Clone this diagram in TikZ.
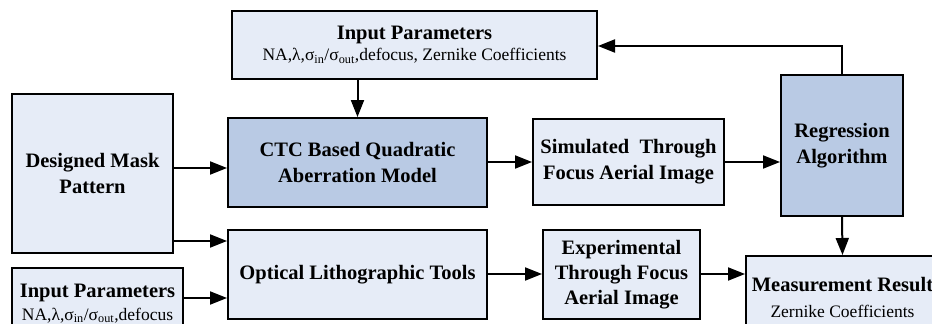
\documentclass[tikz,border=0pt]{standalone}
\usepackage{fontspec}
\setmainfont{Liberation Serif}
\usetikzlibrary{arrows.meta}
\definecolor{lightbox}{RGB}{230,236,247}
\definecolor{darkbox}{RGB}{185,202,228}
\tikzset{
  box/.style={draw=black, line width=2pt, fill=lightbox, align=center, inner sep=0pt,
    font=\fontsize{20.5}{26}\selectfont\bfseries},
  darkfill/.style={fill=darkbox},
  arr/.style={line width=2pt, -{Triangle[length=17pt,width=13pt]}},
}
\newcommand{\subtxt}[1]{{\mdseries\fontsize{17.5}{21}\selectfont #1}}
\newcommand{\sig}{NA,λ,σ\textsubscript{in}/σ\textsubscript{out},defocus}
\begin{document}
\begin{tikzpicture}[x=1pt,y=-1pt]
\useasboundingbox (0,0) rectangle (932,324);
\clip (0,0) rectangle (932,324);
\fill[white] (0,0) rectangle (932,324);
% nodes
\node[box, minimum width=365pt, minimum height=68pt] (top) at (414.5,45)
  {\raisebox{-2pt}{Input Parameters}\\[-3pt]\subtxt{\sig, Zernike Coefficients}};
\node[box, darkfill, minimum width=259pt, minimum height=89pt] (ctc) at (357.5,162.5)
  {CTC Based Quadratic\\Aberration Model};
\node[box, minimum width=161pt, minimum height=159pt] (mask) at (92.5,173.5)
  {Designed Mask\\Pattern};
\node[box, minimum width=259pt, minimum height=89pt] (opt) at (357.5,274.5)
  {Optical Lithographic Tools};
\node[box, minimum width=171pt, minimum height=71pt] (inp) at (97.5,303.5)
  {Input Parameters\\[-3pt]\subtxt{\sig}};
\node[box, minimum width=191pt, minimum height=86pt] (sim) at (628.5,162)
  {Simulated\ \ Through\\Focus Aerial Image};
\node[box, darkfill, minimum width=122pt, minimum height=141pt] (reg) at (842,145.5)
  {Regression\\Algorithm};
\node[box, minimum width=157pt, minimum height=89pt] (exp) at (621.5,274.5)
  {Experimental\\[-1pt]Through Focus\\[-1pt]Aerial Image};
\node[box, minimum width=193pt, minimum height=83pt] (meas) at (842.5,297.5)
  {Measurement Result\\[0pt]\subtxt{Zernike Coefficients}};
% connectors
\draw[arr] (ctc.north |- top.south) -- (ctc.north);
\draw[arr] (mask.east |- 0,168) -- (ctc.west |- 0,168);
\draw[arr] (mask.east |- 0,241) -- (opt.west |- 0,241);
\draw[arr] (inp.east |- 0,298) -- (opt.west |- 0,298);
\draw[arr] (ctc.east |- 0,162) -- (sim.west |- 0,162);
\draw[arr] (sim.east |- 0,162) -- (reg.west |- 0,162);
\draw[arr] (opt.east |- 0,274) -- (exp.west |- 0,274);
\draw[arr] (exp.east |- 0,274) -- (meas.west |- 0,274);
\draw[arr] (reg.south) -- (meas.north);
\draw[arr] (reg.north) -- (842,46) -- (top.east |- 0,46);
\end{tikzpicture}
\end{document}
